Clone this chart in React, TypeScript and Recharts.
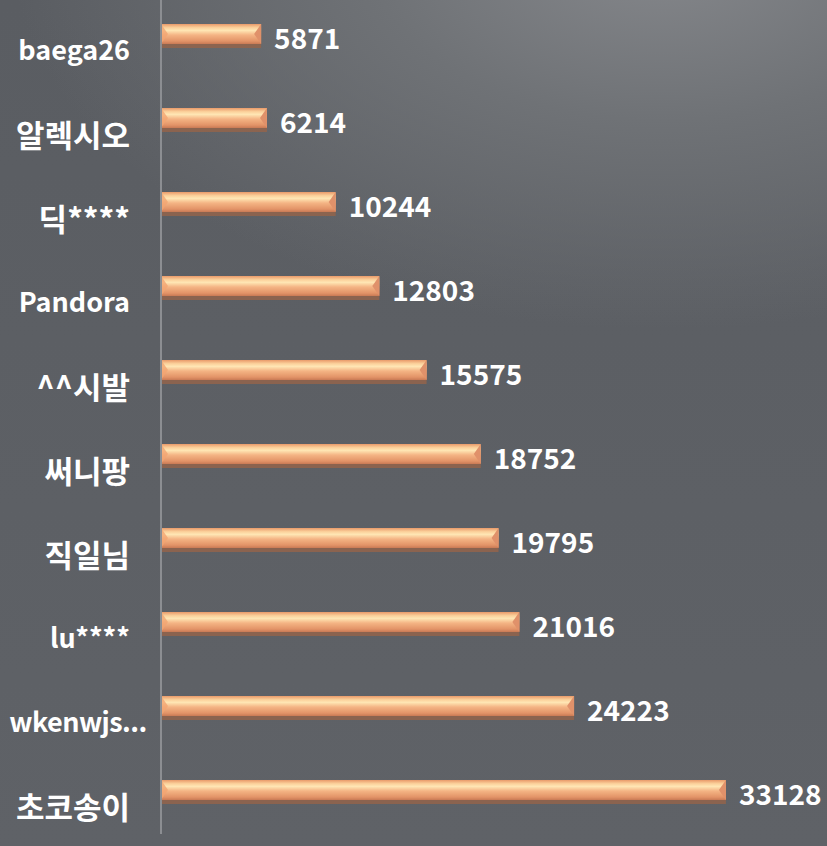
import { BarChart, Bar, XAxis, YAxis, LabelList } from 'recharts';

// top-to-bottom as shown in the chart
const names = ['baega26', '알렉시오', '딕****', 'Pandora', '^^시발', '써니팡', '직일님', 'lu****', 'wkenwjs...', '초코송이'];
const scores = [5871, 6214, 10244, 12803, 15575, 18752, 19795, 21016, 24223, 33128];

const data = names.map((name, i) => ({ name, score: scores[i] }));

const FONT = '"Noto Sans CJK KR", "Noto Sans", sans-serif';
const hasHangul = (s: string) => /[\uac00-\ud7a3]/.test(s);

// orange bar with a bevel look + drop shadow underneath
const BeveledBar = (props: any) => {
  const { x, y, width, height } = props;
  if (!width || width <= 0) return null;
  const body = height - 4;
  const bev = Math.min(7, width / 2);
  return (
    <g>
      <rect x={x} y={y + 3} width={width} height={height - 3} fill="#93644b" opacity={0.85} />
      <rect x={x} y={y} width={width} height={body} fill="url(#barFill)" />
      <polygon
        points={`${x + width - bev},${y + body / 2} ${x + width},${y} ${x + width},${y + body}`}
        fill="#e0916a"
      />
      <polygon
        points={`${x},${y} ${x + bev},${y + body / 2} ${x},${y + body}`}
        fill="#f2a572"
        opacity={0.8}
      />
    </g>
  );
};

const CategoryTick = (props: any) => {
  const { x, y, payload } = props;
  const label: string = payload.value;
  const korean = hasHangul(label);
  const long = label.length > 8;
  return (
    <text
      x={long ? x - 75 : x - 23}
      y={y + (korean ? 19 : 17)}
      textAnchor={long ? 'middle' : 'end'}
      dominantBaseline="middle"
      fill="#ffffff"
      fontSize={korean ? 31 : 27}
      fontWeight="bold"
      fontFamily={FONT}
      letterSpacing={long ? -0.5 : 0}
    >
      {label}
    </text>
  );
};

export default function App() {
  return (
    <div
      style={{
        position: 'absolute',
        left: 0,
        top: 0,
        width: 827,
        height: 846,
        overflow: 'hidden',
        background:
          'radial-gradient(ellipse 650px 380px at 80% -6%, #86888c 0%, #6f7276 45%, rgba(93,96,101,0) 100%), linear-gradient(180deg, #5a5d62 0%, #5f6267 100%)',
      }}
    >
      <BarChart
        width={827}
        height={846}
        data={data}
        layout="vertical"
        margin={{ top: -6, right: 18, bottom: 12, left: 0 }}
      >
        <defs>
          <linearGradient id="barFill" x1="0" y1="0" x2="0" y2="1">
            <stop offset="0%" stopColor="#e99a6a" />
            <stop offset="18%" stopColor="#fbd09a" />
            <stop offset="32%" stopColor="#ffe6b4" />
            <stop offset="55%" stopColor="#f4b484" />
            <stop offset="85%" stopColor="#e39468" />
            <stop offset="100%" stopColor="#c97a55" />
          </linearGradient>
        </defs>
        <XAxis type="number" domain={[0, 38000]} hide />
        <YAxis
          type="category"
          dataKey="name"
          width={161}
          axisLine={{ stroke: '#8c8e92', strokeWidth: 2 }}
          tickLine={false}
          tick={<CategoryTick />}
        />
        <Bar dataKey="score" barSize={24} shape={<BeveledBar />} isAnimationActive={false}>
          <LabelList
            dataKey="score"
            position="right"
            offset={13}
            fill="#ffffff"
            fontSize={28}
            fontWeight="bold"
            fontFamily={FONT}
            dy={3}
          />
        </Bar>
      </BarChart>
    </div>
  );
}
